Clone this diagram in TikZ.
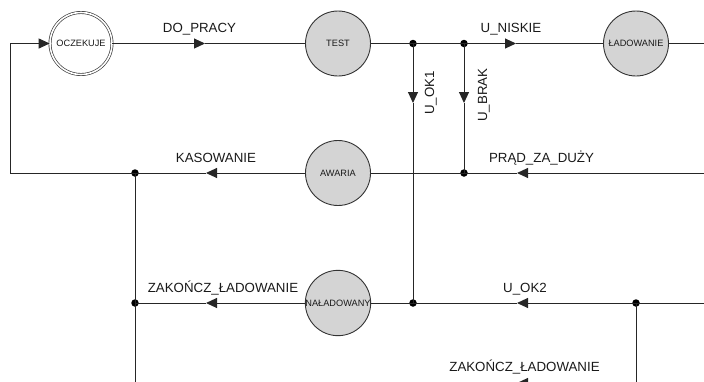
\documentclass[tikz,border=0pt]{standalone}
\usepackage{fontspec}
\setmainfont{Liberation Sans}
\usetikzlibrary{arrows.meta}
\begin{document}
\begin{tikzpicture}[x=1pt,y=-1pt,
  wire/.style={draw=black!85, line width=1pt},
  tipwire/.style={wire, -{Triangle[length=11pt,width=10pt]}},
  state/.style={circle, draw=black!80, line width=0.9pt, fill=black!17,
    minimum size=65pt, inner sep=0pt, text=black!90,
    font=\fontsize{9.2}{10}\selectfont},
  initstate/.style={state, fill=white, double, double distance=1.6pt,
    line width=0.65pt, minimum size=62pt},
  joint/.style={circle, fill=black, inner sep=0pt, minimum size=7.5pt},
  lbl/.style={anchor=base, inner sep=0pt, text=black!90,
    font=\fontsize{13.3}{15}\selectfont},
  vlbl/.style={lbl, rotate=90}
]
\useasboundingbox (0,0) rectangle (704,381);
\clip (0,0) rectangle (704,381);

% states
\node[initstate] (ocz) at (81,43.5) {OCZEKUJE};
\node[state] (test) at (338,43.5) {TEST};
\node[state] (lad) at (636,43.5) {ŁADOWANIE};
\node[state] (awaria) at (338,173) {AWARIA};
\node[state] (nal) at (338,303) {NAŁADOWANY};

% junction dots
\node[joint] (j1) at (413,43.5) {};
\node[joint] (j2) at (464,43.5) {};
\node[joint] (j3) at (464,173) {};
\node[joint] (jk) at (135,173) {};
\node[joint] (j4) at (135,303) {};
\node[joint] (j5) at (413,303) {};
\node[joint] (j6) at (636,303) {};

% arrow tips and corners
\coordinate (a1) at (205,43.5);
\coordinate (a2) at (516,43.5);
\coordinate (a3) at (413,103);
\coordinate (a4) at (464,103);
\coordinate (a5) at (517,173);
\coordinate (a6) at (206,173);
\coordinate (a7) at (206,303);
\coordinate (a8) at (517,303);
\coordinate (a9) at (517,383);
\coordinate (cLT) at (10,43.5);
\coordinate (cLB) at (10,173);
\coordinate (cR1) at (712,43.5);
\coordinate (cR2) at (712,173);
\coordinate (cR3) at (712,303);
\coordinate (cB) at (636,383);
\coordinate (cKB) at (135,395);

% top row
\draw[tipwire] (ocz) -- (a1);
\draw[wire] (a1) -- (test);
\draw[tipwire] (test) -- (j2.center) -- (a2);
\draw[wire] (a2) -- (lad);
\draw[wire] (lad) -- (cR1);

% verticals from the top row
\draw[tipwire] (j1.center) -- (a3);
\draw[wire] (a3) -- (j5.center);
\draw[tipwire] (j2.center) -- (a4);
\draw[wire] (a4) -- (j3.center);

% middle row and return loop
\draw[tipwire] (cR2) -- (a5);
\draw[wire] (a5) -- (awaria);
\draw[tipwire] (awaria) -- (a6);
\draw[tipwire] (a6) -- (cLB) -- (cLT) -- (ocz);
\draw[wire] (jk.center) -- (cKB);

% lower row
\draw[tipwire] (nal) -- (a7);
\draw[wire] (a7) -- (j4.center);
\draw[tipwire] (cR3) -- (a8);
\draw[wire] (a8) -- (nal);
\draw[tipwire] (j6.center) -- (cB) -- (a9);

% transition labels
\node[lbl] (lDo) at (199.5,32.5) {DO\_PRACY};
\node[lbl] (lNi) at (511,32.5) {U\_NISKIE};
\node[lbl] (lKa) at (216,162.5) {KASOWANIE};
\node[lbl] (lPr) at (541.5,162.5) {PRĄD\_ZA\_DUŻY};
\node[lbl] (lZa) at (223,292.5) {ZAKOŃCZ\_ŁADOWANIE};
\node[lbl] (lU2) at (525,292.5) {U\_OK2};
\node[lbl] (lZb) at (524.5,371.5) {ZAKOŃCZ\_ŁADOWANIE};
\node[vlbl] (lU1) at (434,93) {U\_OK1};
\node[vlbl] (lBr) at (487,95) {U\_BRAK};
\end{tikzpicture}
\end{document}
